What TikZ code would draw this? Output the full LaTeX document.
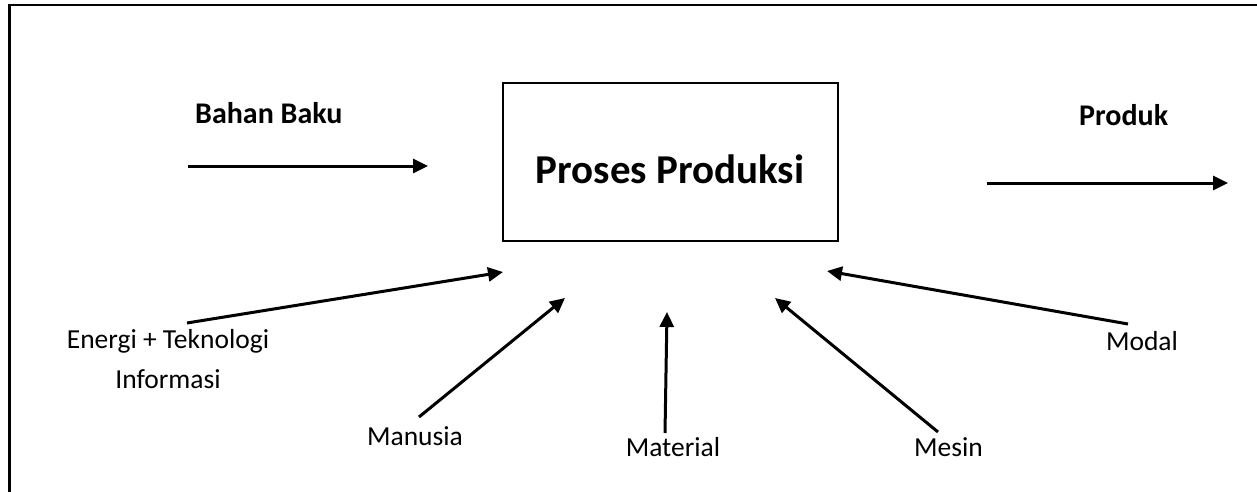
\documentclass[tikz,border=0pt]{standalone}
\usepackage{fontspec}
\setmainfont{Carlito}
\usetikzlibrary{arrows.meta}

\begin{document}
\begin{tikzpicture}[x=1pt, y=-1pt,
    label/.style={anchor=base, font=\fontsize{27.5}{40}\selectfont, inner sep=0pt, align=center},
    boldlabel/.style={anchor=base west, font=\fontsize{30}{36}\selectfont\bfseries, inner sep=0pt},
    arr/.style={line width=3pt, -{Triangle[length=15pt,width=14pt]}}]
\useasboundingbox (0,0) rectangle (1257,492);
% frame, cut at right and bottom
\draw[line width=2.6pt] (9.5,492) -- (9.5,5) -- (1257,5);
% central box
\node[draw, line width=2.6pt, minimum width=335pt, minimum height=158pt, inner sep=0pt] (proses) at (670.5,162) {};
\node[anchor=base, font=\fontsize{41}{48}\selectfont\bfseries, inner sep=0pt] (prosesText) at (670,183) {Proses Produksi};
% input and output
\node[boldlabel] (bahan) at (195,124) {Bahan Baku};
\node[boldlabel] (produk) at (1079,125) {Produk};
\coordinate (bahanS) at (188,166);
\coordinate (bahanE) at (428,166);
\coordinate (produkS) at (987,183);
\coordinate (produkE) at (1228,183);
\draw[arr] (bahanS) -- (bahanE);
\draw[arr] (produkS) -- (produkE);
% resources
\node[label] (energi) at (168,388) {Energi + Teknologi\\Informasi};
\node[label] (manusia) at (415,445) {Manusia};
\node[label] (material) at (673,456) {Material};
\node[label] (mesin) at (948.5,456) {Mesin};
\node[label] (modal) at (1142,350) {Modal};
\coordinate (energiS) at (187,323);
\coordinate (energiE) at (503,272);
\coordinate (manusiaS) at (419,417);
\coordinate (manusiaE) at (565,298);
\coordinate (materialS) at (665,433);
\coordinate (materialE) at (667,312);
\coordinate (mesinS) at (938,432);
\coordinate (mesinE) at (775,298);
\coordinate (modalS) at (1128,324);
\coordinate (modalE) at (827,271);
\foreach \r in {energi, manusia, material, mesin, modal}
    \draw[arr] (\r S) -- (\r E);
\end{tikzpicture}
\end{document}
